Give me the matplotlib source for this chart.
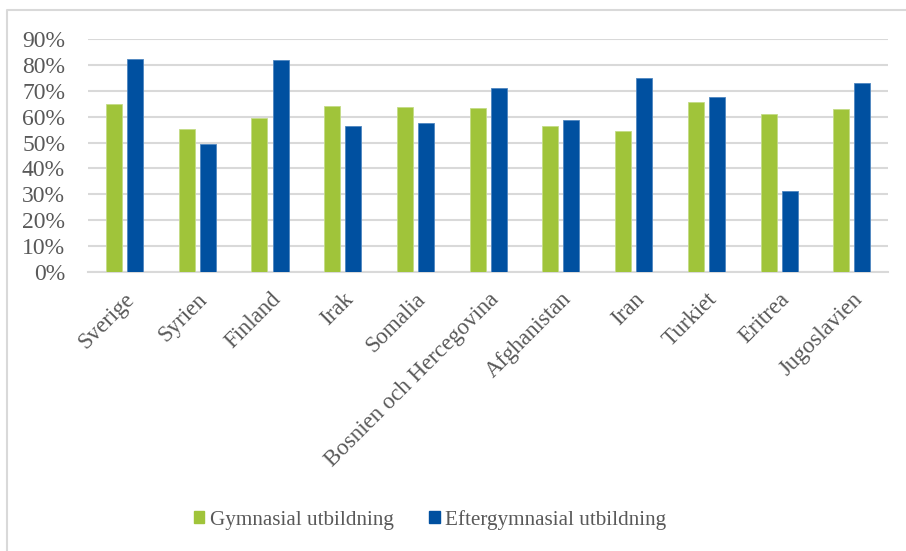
import numpy as np
import matplotlib.pyplot as plt
from matplotlib.patches import Patch
from matplotlib.lines import Line2D
from matplotlib.ticker import PercentFormatter

# andel per land och utbildningsniva
lander = ['Sverige', 'Syrien', 'Finland', 'Irak', 'Somalia',
          'Bosnien och Hercegovina', 'Afghanistan', 'Iran', 'Turkiet',
          'Eritrea', 'Jugoslavien']
gymnasial = [64.7, 55.2, 59.6, 64.1, 63.6, 63.2, 56.4, 54.4, 65.8, 61.0, 62.9]
eftergymnasial = [82.4, 49.3, 81.9, 56.4, 57.5, 71.0, 58.6, 75.0, 67.6, 31.4, 73.1]
serie_namn = ['Gymnasial utbildning', 'Eftergymnasial utbildning']

GRON = '#a0c43a'
BLA = '#0050a0'
GRID = '#d9d9d9'
TXT = '#595959'

plt.rcParams['font.family'] = ['Liberation Serif', 'DejaVu Serif']

W, H = 906, 551
fig = plt.figure(figsize=(W / 100, H / 100), dpi=100)
ax = fig.add_axes([88 / W, 1 - 272 / H, 800 / W, 233 / H])

x = np.arange(len(lander))
bw = 0.22
ax.bar(x - 0.143, np.array(gymnasial) / 100, bw, color=GRON,
       edgecolor='#c4dc86', linewidth=0.6, zorder=3)
ax.bar(x + 0.148, np.array(eftergymnasial) / 100, bw, color=BLA,
       edgecolor='#4f86c0', linewidth=0.6, zorder=3)

ax.set_xlim(-0.5, len(lander) - 0.5)
ax.set_ylim(0, 0.9)
ax.set_yticks(np.arange(0, 0.91, 0.1))
ax.yaxis.set_major_formatter(PercentFormatter(1.0, decimals=0))
ax.yaxis.grid(True, color=GRID, linewidth=1.5, zorder=0)
ax.set_axisbelow(True)
for s in ['top', 'right', 'left']:
    ax.spines[s].set_visible(False)
ax.spines['bottom'].set_color(GRID)
ax.spines['bottom'].set_linewidth(1.5)
ax.tick_params(axis='y', length=0, labelsize=17, labelcolor=TXT, pad=16.5)
ax.set_xticks(x)
ax.set_xticklabels(lander, rotation=45, ha='right', va='top',
                   rotation_mode='anchor')
ax.tick_params(axis='x', length=0, labelsize=16.5, labelcolor=TXT, pad=12)

# ram runt diagrammet (bara vanster och topp syns)
fig.add_artist(Line2D([7 / W, 7 / W, 1.0], [0, 1 - 10 / H, 1 - 10 / H],
                      transform=fig.transFigure, color=GRID, linewidth=1.5))

handles = [Patch(color=GRON), Patch(color=BLA)]
fig.legend(handles, serie_namn, loc='center', bbox_to_anchor=(430 / W, 1 - 520 / H),
           ncol=2, frameon=False, fontsize=15.2, labelcolor=TXT,
           handlelength=0.5, handleheight=0.5, handletextpad=0.25,
           columnspacing=1.7)

fig.savefig('out.png', dpi=100)
